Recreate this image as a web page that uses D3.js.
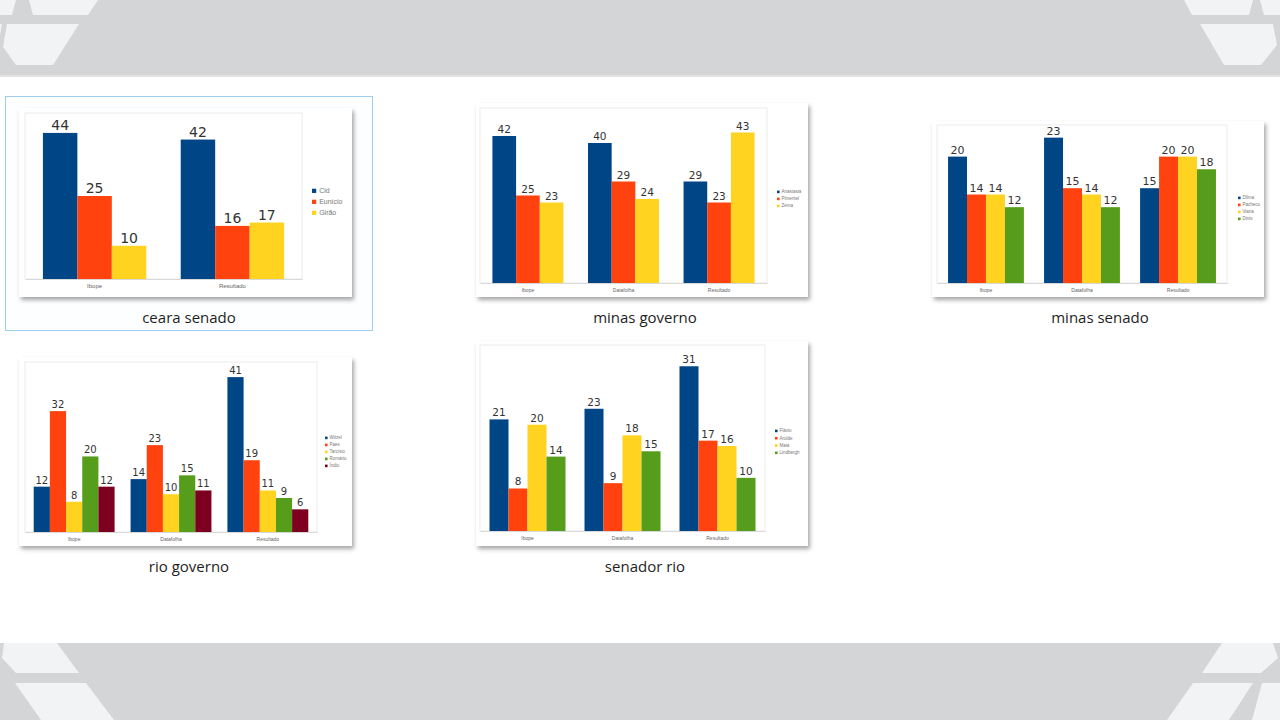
<!DOCTYPE html>
<meta charset="utf-8">
<script src="https://d3js.org/d3.v7.min.js"></script>
<style>
  body { margin: 0; background: #fff; }
  svg { display: block; }
</style>
<div id="my_dataviz"></div>
<script>

// ---- data read from the thumbnails ----
var cearaCats = ["Ibope", "Resultado"];
var cearaSeries = ["Cid", "Eunício", "Girão"];
var cearaValues = [[44, 42], [25, 16], [10, 17]];

var minasGovCats = ["Ibope", "Datafolha", "Resultado"];
var minasGovSeries = ["Anastasia", "Pimentel", "Zema"];
var minasGovValues = [[42, 40, 29], [25, 29, 23], [23, 24, 43]];

var minasSenCats = ["Ibope", "Datafolha", "Resultado"];
var minasSenSeries = ["Dilma", "Pacheco", "Viana", "Dinis"];
var minasSenValues = [[20, 23, 15], [14, 15, 20], [14, 14, 20], [12, 12, 18]];

var rioGovCats = ["Ibope", "Datafolha", "Resultado"];
var rioGovSeries = ["Witzel", "Paes", "Tarcísio", "Romário", "Índio"];
var rioGovValues = [[12, 14, 41], [32, 23, 19], [8, 10, 11], [20, 15, 9], [12, 11, 6]];

var rioSenCats = ["Ibope", "Datafolha", "Resultado"];
var rioSenSeries = ["Flávio", "Arolde", "Maia", "Lindbergh"];
var rioSenValues = [[21, 23, 31], [8, 9, 17], [20, 18, 16], [14, 15, 10]];

var titles = ["ceara senado", "minas governo", "minas senado", "rio governo", "senador rio"];
var yMaxes = [50, 50, 25, 45, 35];

// LibreOffice default palette
var palette = ["#004586", "#ff420e", "#ffd320", "#579d1c", "#7e0021"];

// ---- layout (positions of each thumbnail) ----
var layout = [
  {card: [19, 108, 333, 189], plot: [25, 113, 302, 279], pi: 0.25, po: 0.13, lab: 14, leg: [312, 191, 11, 6.5], title: [189, 323]},
  {card: [476, 103, 332, 194], plot: [480, 108, 767, 283], pi: 0.257, po: 0.13, lab: 10.5, leg: [777, 192, 7, 4], title: [645, 323]},
  {card: [932, 121, 332, 176], plot: [937, 125, 1227, 283], pi: 0.21, po: 0.115, lab: 11, leg: [1238, 198, 7, 4], title: [1100, 323]},
  {card: [19, 357, 333, 189], plot: [25, 362, 317, 532], pi: 0.165, po: 0.09, lab: 10, leg: [325, 438, 7, 4], title: [189, 572]},
  {card: [476, 341, 332, 205], plot: [480, 345, 765, 531], pi: 0.2, po: 0.1, lab: 10.5, leg: [775, 431, 7.3, 4], title: [645, 572]}
];

var charts = [
  {cats: cearaCats, series: cearaSeries, values: cearaValues},
  {cats: minasGovCats, series: minasGovSeries, values: minasGovValues},
  {cats: minasSenCats, series: minasSenSeries, values: minasSenValues},
  {cats: rioGovCats, series: rioGovSeries, values: rioGovValues},
  {cats: rioSenCats, series: rioSenSeries, values: rioSenValues}
];

var svg = d3.select("#my_dataviz")
  .append("svg")
    .attr("width", 1280)
    .attr("height", 720);

var defs = svg.append("defs");
var f = defs.append("filter").attr("id", "shadow")
  .attr("x", "-5%").attr("y", "-5%").attr("width", "115%").attr("height", "120%");
f.append("feDropShadow").attr("dx", 2).attr("dy", 3).attr("stdDeviation", 2.2)
  .attr("flood-color", "#000").attr("flood-opacity", 0.35);

// ---- page background: grey bands with light shapes ----
svg.append("rect").attr("width", 1280).attr("height", 720).attr("fill", "#fff");
svg.append("rect").attr("width", 1280).attr("height", 75).attr("fill", "#d4d5d7");
svg.append("rect").attr("y", 75).attr("width", 1280).attr("height", 2).attr("fill", "#e4e4e4");
svg.append("rect").attr("y", 643).attr("width", 1280).attr("height", 77).attr("fill", "#d4d5d7");

var shapes = [
  [[0, 0], [16, 0], [12, 15], [0, 15]],
  [[29, 0], [98, 0], [88, 15], [33, 15]],
  [[7, 24], [79, 24], [53, 65], [16, 65], [3, 47]],
  [[0, 24], [2, 24], [0, 35]],
  [[1184, 0], [1253, 0], [1249, 15], [1192, 15]],
  [[1260, 0], [1280, 0], [1280, 15], [1264, 15]],
  [[1200, 24], [1273, 24], [1277, 45], [1261, 65], [1224, 65]],
  [[4, 643], [57, 643], [79, 673], [16, 673], [2, 658]],
  [[15, 683], [86, 683], [114, 720], [41, 720]],
  [[1222, 643], [1273, 643], [1278, 658], [1261, 673], [1202, 673]],
  [[1193, 683], [1253, 683], [1229, 720], [1167, 720]],
  [[1262, 683], [1280, 683], [1280, 720], [1252, 720]]
];
svg.append("g").selectAll("path").data(shapes).enter().append("path")
  .attr("d", function(d) { return d3.line()(d) + "Z"; })
  .attr("fill", "#f2f3f5");

// selection box around first item
svg.append("rect")
  .attr("x", 5.5).attr("y", 96.5).attr("width", 367).attr("height", 234)
  .attr("fill", "#fdfeff").attr("stroke", "#9fcfee").attr("stroke-width", 1);

// ---- draw every chart ----
charts.forEach(function(c, i) {
  var L = layout[i];
  var g = svg.append("g");

  // thumbnail card
  g.append("rect")
    .attr("x", L.card[0]).attr("y", L.card[1])
    .attr("width", L.card[2]).attr("height", L.card[3])
    .attr("fill", "#fff").attr("filter", "url(#shadow)");

  // plot frame
  g.append("rect")
    .attr("x", L.plot[0]).attr("y", L.plot[1])
    .attr("width", L.plot[2] - L.plot[0]).attr("height", L.plot[3] - L.plot[1])
    .attr("fill", "none").attr("stroke", "#ececec");

  var x0 = d3.scaleBand()
    .domain(c.cats)
    .range([L.plot[0], L.plot[2]])
    .paddingInner(L.pi)
    .paddingOuter(L.po);

  var x1 = d3.scaleBand()
    .domain(c.series)
    .range([0, x0.bandwidth()]);

  var y = d3.scaleLinear()
    .domain([0, yMaxes[i]])
    .range([L.plot[3], L.plot[1]]);

  var color = d3.scaleOrdinal()
    .domain(c.series)
    .range(palette);

  var rows = [];
  c.series.forEach(function(s, si) {
    c.cats.forEach(function(cat, ci) {
      rows.push({cat: cat, key: s, value: c.values[si][ci]});
    });
  });

  g.append("g").selectAll("rect").data(rows).enter().append("rect")
    .attr("x", function(d) { return x0(d.cat) + x1(d.key); })
    .attr("y", function(d) { return y(d.value); })
    .attr("width", x1.bandwidth())
    .attr("height", function(d) { return y(0) - y(d.value); })
    .attr("fill", function(d) { return color(d.key); });

  g.append("g").selectAll("text").data(rows).enter().append("text")
    .attr("x", function(d) { return x0(d.cat) + x1(d.key) + x1.bandwidth() / 2; })
    .attr("y", function(d) { return y(d.value) - 3; })
    .attr("text-anchor", "middle")
    .attr("font-family", "DejaVu Sans, sans-serif")
    .attr("font-size", L.lab)
    .attr("fill", "#333")
    .text(function(d) { return d.value; });

  // category axis
  var ax = g.append("g")
    .attr("transform", "translate(0," + y(0) + ")")
    .call(d3.axisBottom(x0).tickSize(0).tickSizeOuter(0).tickPadding(5));
  ax.select(".domain").attr("stroke", "#d8d8d8");
  ax.selectAll("text")
    .attr("font-family", "Liberation Sans, sans-serif")
    .attr("font-size", i === 0 ? 6 : 5)
    .attr("fill", "#666");

  // legend
  var leg = g.append("g").selectAll("g").data(c.series).enter().append("g")
    .attr("transform", function(d, k) {
      return "translate(" + L.leg[0] + "," + (L.leg[1] + k * L.leg[2]) + ")";
    });
  leg.append("rect")
    .attr("x", 0).attr("y", -L.leg[3] * 0.35)
    .attr("width", L.leg[3] * 0.65).attr("height", L.leg[3] * 0.65)
    .attr("fill", function(d) { return color(d); });
  leg.append("text")
    .attr("x", L.leg[3] * 1.1).attr("y", L.leg[3] * 0.35)
    .attr("font-family", "Liberation Sans, sans-serif")
    .attr("font-size", L.leg[3] + 0.5)
    .attr("fill", "#777")
    .text(function(d) { return d; });

  // file name under the thumbnail
  g.append("text")
    .attr("x", L.title[0]).attr("y", L.title[1])
    .attr("text-anchor", "middle")
    .attr("font-family", "Open Sans, sans-serif")
    .attr("font-size", 15)
    .attr("fill", "#1e1e1e")
    .text(titles[i]);
});

</script>
